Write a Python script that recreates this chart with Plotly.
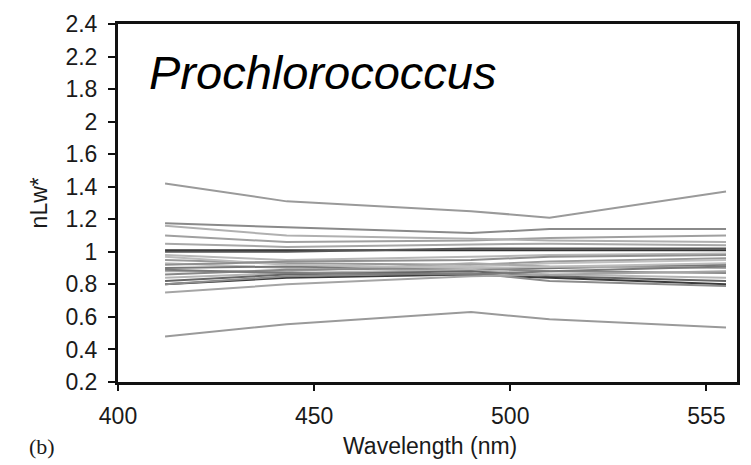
import plotly.graph_objects as go

wavelengths = [412, 443, 490, 510, 555]

series = [
    [1.42, 1.31, 1.25, 1.21, 1.37],
    [0.48, 0.555, 0.63, 0.585, 0.535],
    [1.175, 1.15, 1.115, 1.14, 1.14],
    [1.10, 1.06, 1.07, 1.085, 1.10],
    [1.16, 1.10, 1.08, 1.07, 1.06],
    [1.05, 1.03, 1.045, 1.05, 1.04],
    [1.01, 1.01, 1.01, 1.01, 1.01],
    [1.00, 1.00, 1.02, 1.02, 1.02],
    [0.98, 0.95, 0.97, 0.98, 0.99],
    [0.95, 0.93, 0.92, 0.94, 0.96],
    [0.93, 0.90, 0.91, 0.93, 0.95],
    [0.90, 0.91, 0.89, 0.90, 0.92],
    [0.88, 0.88, 0.93, 0.91, 0.90],
    [0.86, 0.89, 0.90, 0.88, 0.87],
    [0.84, 0.87, 0.89, 0.86, 0.84],
    [0.82, 0.86, 0.88, 0.85, 0.82],
    [0.80, 0.84, 0.86, 0.84, 0.80],
    [0.80, 0.85, 0.87, 0.82, 0.79],
    [0.75, 0.80, 0.85, 0.86, 0.88],
    [0.97, 0.92, 0.90, 0.91, 0.93],
    [0.92, 0.94, 0.95, 0.97, 0.98],
    [0.89, 0.87, 0.86, 0.88, 0.91],
]

line_colors = [
    "#9a9a9a", "#9a9a9a", "#8a8a8a", "#a0a0a0", "#b0b0b0", "#a8a8a8",
    "#333333", "#555555", "#b8b8b8", "#999999", "#c0c0c0", "#777777",
    "#aaaaaa", "#888888", "#b5b5b5", "#666666", "#3a3a3a", "#8c8c8c",
    "#a5a5a5", "#bcbcbc", "#909090", "#7a7a7a",
]

x_tickvals = [400, 450, 500, 550]
x_ticktext = ["400", "450", "500", "555"]
y_tickvals = [0.2, 0.4, 0.6, 0.8, 1.0, 1.2, 1.4, 1.6, 1.8, 2.0, 2.2, 2.4]
y_ticktext = ["0.2", "0.4", "0.6", "0.8", "1", "1.2", "1.4", "1.6", "2", "1.8", "2.2", "2.4"]

fig = go.Figure()
for vals, col in zip(series, line_colors):
    fig.add_trace(go.Scatter(x=wavelengths, y=vals, mode="lines",
                             line=dict(color=col, width=2), showlegend=False,
                             hoverinfo="skip"))

W, H = 751, 465
L, R, T, B = 118, 740, 16, 382

def px(xp):
    return (xp - L) / (R - L)

def py(yp):
    return (B - yp) / (B - T)

font = "Liberation Sans, Arial, sans-serif"

fig.update_layout(
    width=W, height=H,
    margin=dict(l=L, r=W - R, t=T, b=H - B),
    paper_bgcolor="white", plot_bgcolor="white",
    font=dict(family=font, size=23, color="#1a1a1a"),
    xaxis=dict(range=[400, 557.8], tickvals=x_tickvals, ticktext=x_ticktext,
               showgrid=False, zeroline=False, showline=True, linecolor="#111",
               linewidth=3, mirror=True, ticks="outside", ticklen=6,
               tickwidth=2, tickcolor="#111", tickfont=dict(size=23),
               ticklabelstandoff=5),
    yaxis=dict(range=[0.2, 2.4], tickvals=y_tickvals, ticktext=y_ticktext,
               showgrid=False, zeroline=False, showline=True, linecolor="#111",
               linewidth=3, mirror=True, ticks="outside", ticklen=7,
               tickwidth=2, tickcolor="#111", tickfont=dict(size=23),
               ticklabelstandoff=6),
    annotations=[
        dict(text="<i>Prochlorococcus</i>", x=px(147), y=py(66), xref="paper", yref="paper",
             xanchor="left", yanchor="middle", showarrow=False,
             font=dict(size=47, family=font, color="#000")),
        dict(text="Wavelength (nm)", x=px(432), y=py(447), xref="paper", yref="paper",
             xanchor="center", yanchor="middle", showarrow=False,
             font=dict(size=23, family=font)),
        dict(text="nLw*", x=px(39), y=py(199), xref="paper", yref="paper",
             xanchor="center", yanchor="middle", showarrow=False, textangle=-90,
             font=dict(size=23, family=font)),
        dict(text="(b)", x=px(42), y=py(448), xref="paper", yref="paper",
             xanchor="center", yanchor="middle", showarrow=False,
             font=dict(size=22, family="Liberation Serif, Times New Roman, serif")),
    ],
)

fig.write_html("out.html")
